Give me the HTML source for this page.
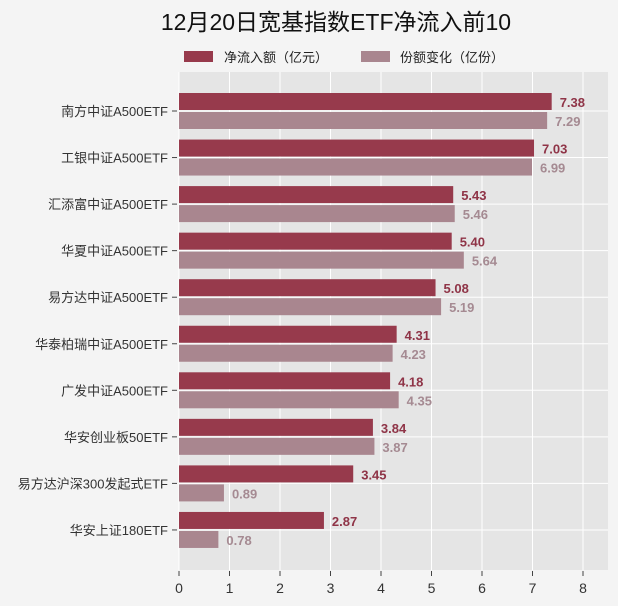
<!DOCTYPE html>
<html><head><meta charset="utf-8"><style>
body{margin:0;background:#f4f4f4;}
svg{display:block;font-family:"Liberation Sans","Noto Sans CJK SC",sans-serif;}
</style></head><body>
<svg id="c" width="618" height="606">
<rect width="618" height="606" fill="#f4f4f4"/>
<text x="336" y="30" text-anchor="middle" font-size="23" fill="#111">12月20日宽基指数ETF净流入前10</text>
<g>
<rect x="184" y="51" width="29" height="11" fill="#973a4c"/>
<text x="224" y="62" font-size="13" fill="#222">净流入额（亿元）</text>
<rect x="361" y="51" width="29" height="11" fill="#a9868f"/>
<text x="400" y="62" font-size="13" fill="#222">份额变化（亿份）</text>
</g>
<rect x="179" y="72" width="429" height="498" fill="#e5e5e5"/>
<g id="g"></g>
</svg>
<script>
const categories=["南方中证A500ETF","工银中证A500ETF","汇添富中证A500ETF","华夏中证A500ETF","易方达中证A500ETF","华泰柏瑞中证A500ETF","广发中证A500ETF","华安创业板50ETF","易方达沪深300发起式ETF","华安上证180ETF"];
const inflow=[7.38,7.03,5.43,5.40,5.08,4.31,4.18,3.84,3.45,2.87];
const shares=[7.29,6.99,5.46,5.64,5.19,4.23,4.35,3.87,0.89,0.78];
const ticks=[0,1,2,3,4,5,6,7,8];
const NS="http://www.w3.org/2000/svg",g=document.getElementById('g');
const x=v=>179+v*50.5;
const y=i=>111+i*46.55;
function mk(t,a,txt){const e=document.createElementNS(NS,t);for(const k in a)e.setAttribute(k,a[k]);if(txt!==undefined)e.textContent=txt;g.appendChild(e);return e;}
ticks.forEach(t=>{
 const l=mk('line',{x1:x(t),x2:x(t),y1:72,y2:570,stroke:'#fff','stroke-width':1});
 
 
 const tk=mk('line',{x1:x(t),x2:x(t),y1:571,y2:576,stroke:'#444'});
 
 
 const tl=mk('text',{x:x(t),y:593,'text-anchor':'middle','font-size':14,fill:'#333'},String(t));
 
 
});
categories.forEach((c,i)=>{
 const cy=y(i);
 const gl=mk('line',{x1:179,x2:608,y1:cy,y2:cy,stroke:'#fff'});
 
 
 const yt=mk('line',{x1:172,x2:177,y1:cy,y2:cy,stroke:'#444'});
 
 
 const lb=mk('text',{x:168,y:cy+5,'text-anchor':'end','font-size':13,fill:'#333'},c);
 
 
 const b1=mk('rect',{x:179,y:cy-18,width:x(inflow[i])-179,height:17,fill:'#973a4c'});
 
 
 const v1=mk('text',{x:x(inflow[i])+8,y:cy-4,'font-size':13,'font-weight':'bold',fill:'#8f3447'},inflow[i].toFixed(2));
 
 
 const b2=mk('rect',{x:179,y:cy+1,width:x(shares[i])-179,height:17,fill:'#a9868f'});
 
 
 const v2=mk('text',{x:x(shares[i])+8,y:cy+15,'font-size':13,'font-weight':'bold',fill:'#a58a92'},shares[i].toFixed(2));
 
 
});
</script>
</body></html>
